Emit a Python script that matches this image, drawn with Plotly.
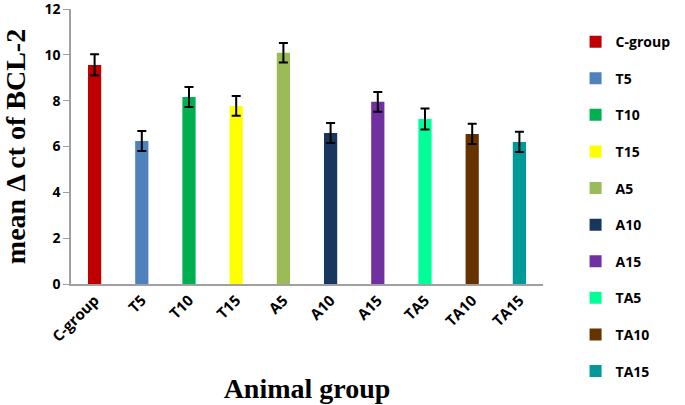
import plotly.graph_objects as go

categories = ["C-group", "T5", "T10", "T15", "A5", "A10", "A15", "TA5", "TA10", "TA15"]
means = [9.56, 6.24, 8.16, 7.77, 10.09, 6.59, 7.95, 7.2, 6.55, 6.2]
errors = [0.46, 0.44, 0.44, 0.43, 0.43, 0.44, 0.43, 0.46, 0.44, 0.44]
colors = ["#C00000", "#4F81BD", "#00B050", "#FFFF00", "#9BBB59",
          "#17375E", "#7030A0", "#00FF99", "#663300", "#009999"]
y_ticks = [0, 2, 4, 6, 8, 10, 12]

fig = go.Figure()
for cat, m, e, c in zip(categories, means, errors, colors):
    fig.add_trace(go.Bar(
        x=[cat], y=[m], name="<b>" + cat + "</b>", marker=dict(color=c, line=dict(width=0)),
        width=0.28, legendgroup=cat,
        error_y=dict(type="data", array=[e], color="black", thickness=2, width=4.5, visible=True),
    ))

x_tick_font = dict(family="Open Sans, Liberation Sans, sans-serif", size=15, color="#000000")
y_tick_font = dict(family="Open Sans, Liberation Sans, sans-serif", size=14, color="#000000")
title_font = dict(family="Liberation Serif, Times New Roman, serif", size=28, color="#000000")

fig.update_layout(
    width=685, height=405,
    margin=dict(l=71, r=117, t=9, b=121),
    paper_bgcolor="white", plot_bgcolor="white",
    barmode="overlay",
    showlegend=True,
    legend=dict(x=1.069, xanchor="left", y=0.938, yanchor="top",
                font=dict(family="Open Sans, Liberation Sans, sans-serif", size=14, color="#000000"),
                tracegroupgap=15.4, itemwidth=30, maxheight=395),
)
fig.update_xaxes(
    categoryorder="array", categoryarray=categories,
    tickvals=categories, ticktext=["<b>" + c + "</b>" for c in categories],
    showline=True, linecolor="#A0A0A0", linewidth=1.5,
    showgrid=False, ticks="", tickangle=-45,
    tickfont=x_tick_font, automargin=False,
    title=dict(text="<b>Animal group</b>", font=title_font, standoff=34),
)
fig.update_yaxes(
    range=[0, 12], tickvals=y_ticks, ticktext=["<b>%d</b>" % v for v in y_ticks],
    showline=True, linecolor="#A0A0A0", linewidth=1.5,
    showgrid=False, zeroline=False, ticklabeloverflow="allow",
    ticks="outside", ticklen=6, tickcolor="#A0A0A0",
    tickfont=y_tick_font, automargin=False,
    title=dict(text="<b>mean Δ ct of BCL-2</b>", font=title_font, standoff=14),
)

fig.write_html("out.html", config={"displayModeBar": False},
               post_script="document.body.style.margin='0px';")
